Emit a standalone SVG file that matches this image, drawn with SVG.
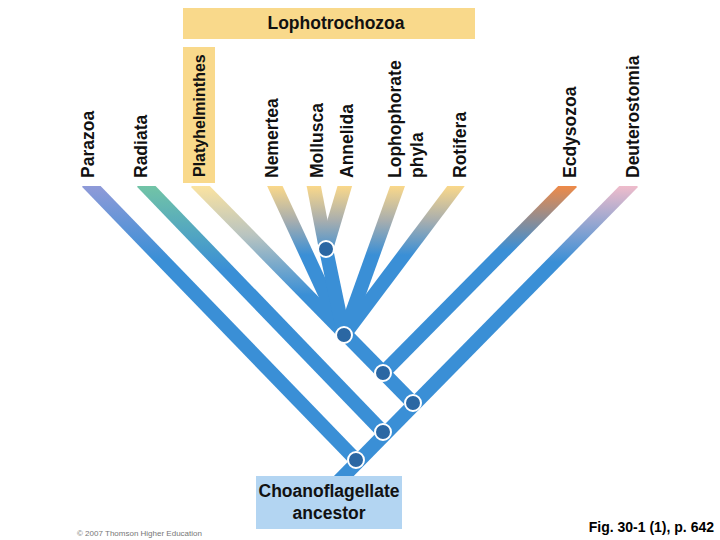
<svg xmlns="http://www.w3.org/2000/svg" width="720" height="540" viewBox="0 0 720 540">
<style>
.lbl{font-family:"Liberation Sans",Arial,sans-serif;font-weight:bold;font-size:17.5px;fill:#111}
.br{fill:none;stroke-width:14;stroke-linecap:butt}
.nd{fill:#2b67a3;stroke:#ffffff;stroke-width:2}
</style>
<defs>
<clipPath id="top"><rect x="0" y="186" width="720" height="354"/></clipPath>
<linearGradient id="gPar" gradientUnits="userSpaceOnUse" x1="0" y1="186" x2="0" y2="260"><stop offset="0" stop-color="#8f9ad8"/><stop offset="1" stop-color="#3a8fd6"/></linearGradient>
<linearGradient id="gRad" gradientUnits="userSpaceOnUse" x1="0" y1="186" x2="0" y2="270"><stop offset="0" stop-color="#72c4a6"/><stop offset="1" stop-color="#3a8fd6"/></linearGradient>
<linearGradient id="gPla" gradientUnits="userSpaceOnUse" x1="0" y1="186" x2="0" y2="295"><stop offset="0" stop-color="#fbe3a0"/><stop offset="0.45" stop-color="#b9c4c0"/><stop offset="1" stop-color="#3a8fd6"/></linearGradient>
<linearGradient id="gLop" gradientUnits="userSpaceOnUse" x1="0" y1="186" x2="0" y2="255"><stop offset="0" stop-color="#fad88a"/><stop offset="0.5" stop-color="#a8aeae"/><stop offset="1" stop-color="#3a8fd6"/></linearGradient>
<linearGradient id="gEcd" gradientUnits="userSpaceOnUse" x1="0" y1="186" x2="0" y2="250"><stop offset="0" stop-color="#ee8a48"/><stop offset="1" stop-color="#3a8fd6"/></linearGradient>
<linearGradient id="gDeu" gradientUnits="userSpaceOnUse" x1="0" y1="186" x2="0" y2="262"><stop offset="0" stop-color="#efbccb"/><stop offset="1" stop-color="#3a8fd6"/></linearGradient>
</defs>
<rect width="720" height="540" fill="#ffffff"/>

<g id="connectors" clip-path="url(#top)">
<line class="br" stroke="url(#gPar)" stroke-width="15" x1="87" y1="182" x2="356" y2="460"/>
<line class="br" stroke="url(#gRad)" stroke-width="15" x1="142" y1="182" x2="383" y2="432"/>
<line class="br" stroke="url(#gPla)" stroke-width="15" x1="196" y1="182" x2="413" y2="403"/>
<line class="br" stroke="url(#gEcd)" stroke-width="15" x1="572" y1="182" x2="383" y2="373"/>
<line class="br" stroke="url(#gDeu)" stroke-width="15" x1="633" y1="182" x2="335" y2="485"/>
<line class="br" stroke="url(#gLop)" x1="273" y1="182" x2="344" y2="335"/>
<line class="br" stroke="url(#gLop)" x1="313" y1="182" x2="326" y2="249"/>
<line class="br" stroke="url(#gLop)" x1="346" y1="182" x2="326" y2="249"/>
<line class="br" stroke="#3a8fd6" x1="326" y1="249" x2="344" y2="335"/>
<line class="br" stroke="url(#gLop)" x1="399" y1="182" x2="344" y2="335"/>
<line class="br" stroke="url(#gLop)" x1="459" y1="182" x2="344" y2="335"/>
</g>

<g id="nodes-points">
<circle class="nd" cx="326" cy="249" r="8"/>
<circle class="nd" cx="344" cy="335" r="8"/>
<circle class="nd" cx="383" cy="373" r="8"/>
<circle class="nd" cx="413" cy="403" r="8"/>
<circle class="nd" cx="383" cy="432" r="8"/>
<circle class="nd" cx="356" cy="460" r="8"/>
</g>

<g id="lophotrochozoa">
<rect x="183" y="8" width="292" height="31" fill="#f9d98b"/>
<text class="lbl" x="336" y="29" text-anchor="middle" font-size="18">Lophotrochozoa</text>
</g>

<g id="parazoa"><text class="lbl" transform="translate(94,178) rotate(-90)">Parazoa</text></g>
<g id="radiata"><text class="lbl" transform="translate(147,178) rotate(-90)">Radiata</text></g>
<g id="platyhelminthes">
<rect x="183" y="47" width="32" height="136" fill="#f9d98b"/>
<text class="lbl" style="font-size:16px" transform="translate(205,177) rotate(-90)">Platyhelminthes</text>
</g>
<g id="nemertea"><text class="lbl" transform="translate(278,178) rotate(-90)">Nemertea</text></g>
<g id="mollusca"><text class="lbl" transform="translate(323,178) rotate(-90)">Mollusca</text></g>
<g id="annelida"><text class="lbl" transform="translate(353,178) rotate(-90)">Annelida</text></g>
<g id="lophophorate"><text class="lbl" transform="translate(401,178) rotate(-90)">Lophophorate<tspan x="0" dy="22">phyla</tspan></text></g>
<g id="rotifera"><text class="lbl" transform="translate(466,178) rotate(-90)">Rotifera</text></g>
<g id="ecdysozoa"><text class="lbl" transform="translate(576,178) rotate(-90)">Ecdysozoa</text></g>
<g id="deuterostomia"><text class="lbl" transform="translate(639,178) rotate(-90)">Deuterostomia</text></g>

<g id="ancestor">
<rect x="256" y="476" width="146" height="53" fill="#b3d5f2"/>
<text class="lbl" x="329" y="497" text-anchor="middle" font-size="16.5">Choanoflagellate</text>
<text class="lbl" x="329" y="519" text-anchor="middle" font-size="16.5">ancestor</text>
</g>

<text x="77" y="536" font-family="Liberation Sans,Arial,sans-serif" font-size="8" fill="#777">© 2007 Thomson Higher Education</text>
<text x="714" y="532" text-anchor="end" font-family="Liberation Sans,Arial,sans-serif" font-weight="bold" font-size="14" fill="#000">Fig. 30-1 (1), p. 642</text>
</svg>
